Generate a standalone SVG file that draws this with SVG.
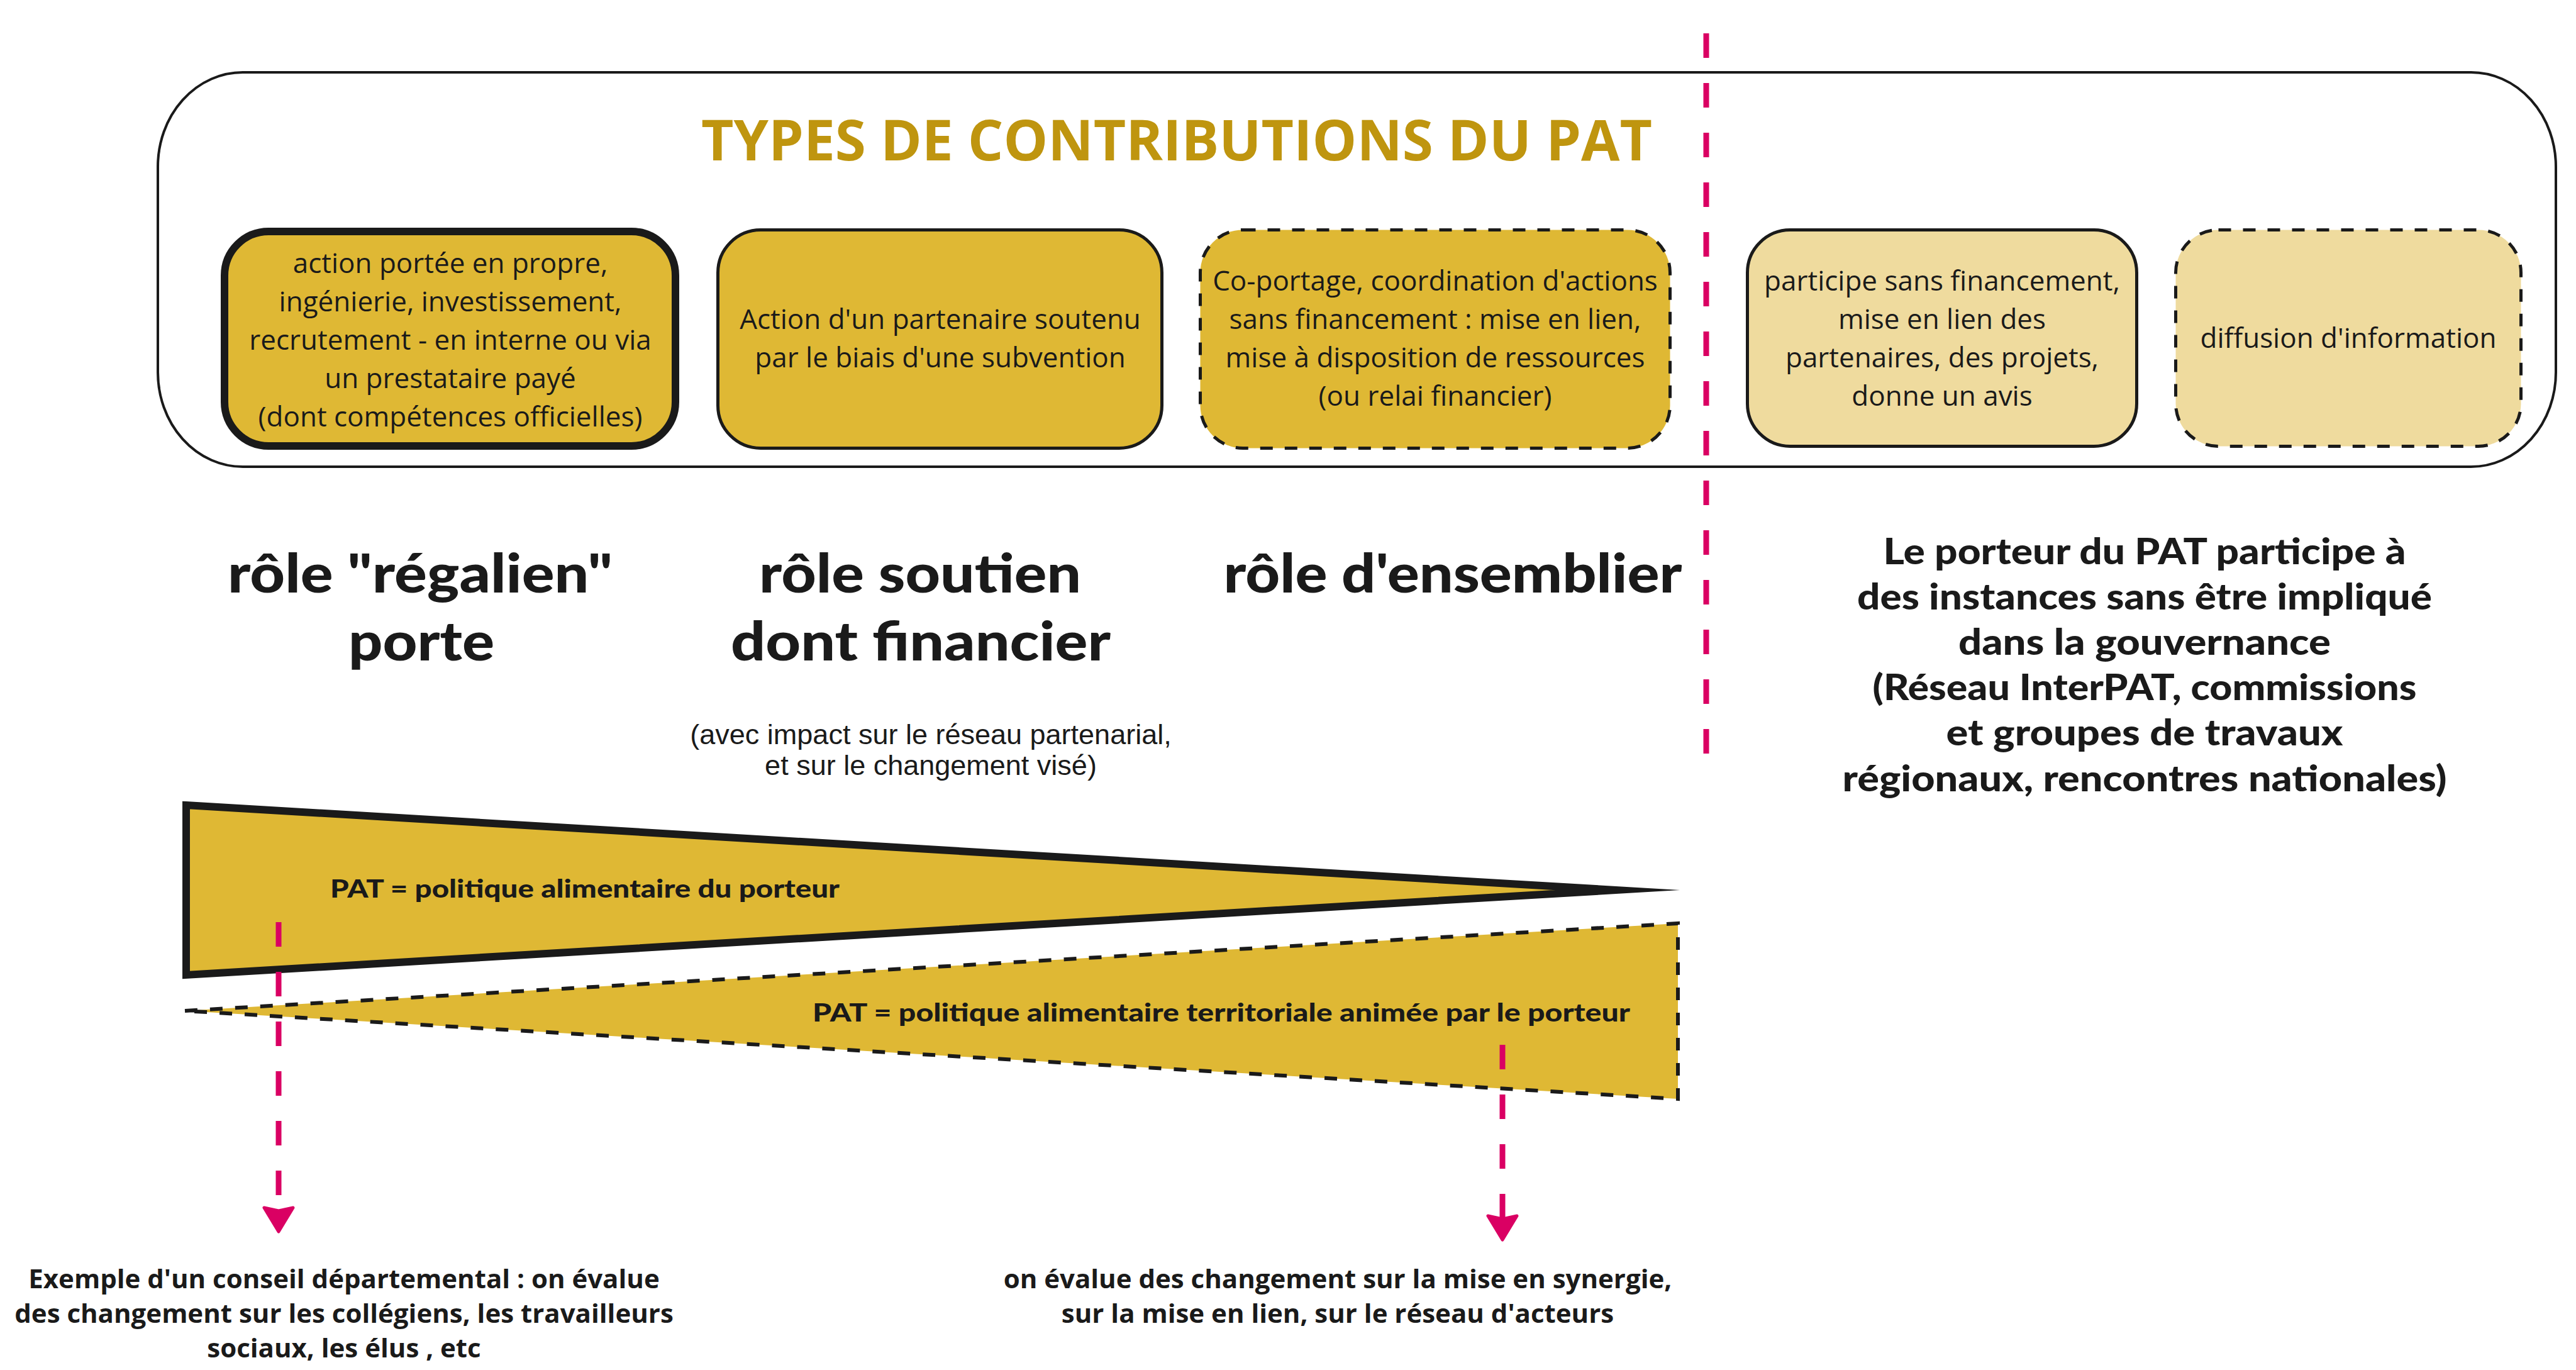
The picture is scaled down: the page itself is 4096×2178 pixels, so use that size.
<svg xmlns="http://www.w3.org/2000/svg" width="4096" height="2178" viewBox="0 0 4096 2178">
<style>
.box{fill:#DFB834;stroke:#1A1A1A;stroke-width:5}
.light{fill:#EFDB9E}
.dash{stroke-dasharray:20 19}
.thick{stroke-width:12}
.bt{font-family:"Open Sans","Noto Sans",sans-serif;font-size:44px;fill:#1A1A1A;text-anchor:middle}
.role{font-family:Lato,"Noto Sans",sans-serif;font-weight:900;font-size:86px;fill:#1A1A1A;text-anchor:middle}
.side{font-family:Lato,"Noto Sans",sans-serif;font-weight:900;font-size:58px;fill:#1A1A1A;text-anchor:middle}
.tri{font-family:Lato,"Noto Sans",sans-serif;font-weight:900;font-size:40px;fill:#1A1A1A}
.bot{font-family:"Open Sans","Noto Sans",sans-serif;font-weight:700;font-size:42px;fill:#1A1A1A;text-anchor:middle}
.sub{font-family:"Liberation Sans",Arial,sans-serif;font-size:45px;fill:#1A1A1A;text-anchor:middle}
.pink{fill:none;stroke:#DA0063;stroke-width:9;stroke-dasharray:39 40}
</style>
<defs>
<marker id="head" viewBox="0 0 44 52" refX="8" refY="26" markerWidth="44" markerHeight="52" markerUnits="userSpaceOnUse" orient="auto">
<path d="M3,3 L41,26 L3,49 L8,26 Z" fill="#DA0063" stroke="#DA0063" stroke-width="5" stroke-linejoin="round"/>
</marker>
</defs>
<rect width="4096" height="2178" fill="#FFFFFF"/>

<g id="frame">
<rect x="251" y="115" width="3813" height="627" rx="135" ry="150" fill="none" stroke="#1A1A1A" stroke-width="4"/>
<text x="1871" y="255" font-family="'Open Sans','Noto Sans',sans-serif" font-weight="700" font-size="89" fill="#BF950F" text-anchor="middle">TYPES DE CONTRIBUTIONS DU PAT</text>
</g>

<g id="box1">
<rect class="box thick" x="357" y="368" width="717" height="341" rx="70"/>
<text class="bt" x="716" y="434">action portée en propre,</text>
<text class="bt" x="716" y="495">ingénierie, investissement,</text>
<text class="bt" x="716" y="556">recrutement - en interne ou via</text>
<text class="bt" x="716" y="617">un prestataire payé</text>
<text class="bt" x="716" y="678">(dont compétences officielles)</text>
</g>

<g id="box2">
<rect class="box" x="1141.5" y="365.5" width="706" height="347" rx="68"/>
<text class="bt" x="1495" y="523">Action d'un partenaire soutenu</text>
<text class="bt" x="1495" y="584">par le biais d'une subvention</text>
</g>

<g id="box3">
<rect class="box dash" x="1908.5" y="365.5" width="747" height="347" rx="68"/>
<text class="bt" x="2282" y="462">Co-portage, coordination d'actions</text>
<text class="bt" x="2282" y="523">sans financement : mise en lien,</text>
<text class="bt" x="2282" y="584">mise à disposition de ressources</text>
<text class="bt" x="2282" y="645">(ou relai financier)</text>
</g>

<g id="box4">
<rect class="box light" x="2778.5" y="365.5" width="619" height="344" rx="68"/>
<text class="bt" x="3088" y="462">participe sans financement,</text>
<text class="bt" x="3088" y="523">mise en lien des</text>
<text class="bt" x="3088" y="584">partenaires, des projets,</text>
<text class="bt" x="3088" y="645">donne un avis</text>
</g>

<g id="box5">
<rect class="box light dash" x="3459.5" y="365.5" width="549" height="344" rx="68"/>
<text class="bt" x="3734" y="553">diffusion d'information</text>
</g>

<g id="role-regalien">
<text class="role" x="668" y="942" textLength="612" lengthAdjust="spacingAndGlyphs">rôle "régalien"</text>
<text class="role" x="670" y="1050" textLength="232" lengthAdjust="spacingAndGlyphs">porte</text>
</g>

<g id="role-soutien">
<text class="role" x="1463" y="942" textLength="512" lengthAdjust="spacingAndGlyphs">rôle soutien</text>
<text class="role" x="1464" y="1050" textLength="604" lengthAdjust="spacingAndGlyphs">dont financier</text>
<text class="sub" x="1480" y="1183">(avec impact sur le réseau partenarial,</text>
<text class="sub" x="1480" y="1232">et sur le changement visé)</text>
</g>

<g id="role-ensemblier">
<text class="role" x="2310" y="942" textLength="729" lengthAdjust="spacingAndGlyphs">rôle d'ensemblier</text>
</g>

<g id="instances">
<text class="side" x="3410" y="897" textLength="831" lengthAdjust="spacingAndGlyphs">Le porteur du PAT participe à</text>
<text class="side" x="3410" y="969" textLength="914" lengthAdjust="spacingAndGlyphs">des instances sans être impliqué</text>
<text class="side" x="3410" y="1041" textLength="592" lengthAdjust="spacingAndGlyphs">dans la gouvernance</text>
<text class="side" x="3410" y="1113" textLength="865" lengthAdjust="spacingAndGlyphs">(Réseau InterPAT, commissions</text>
<text class="side" x="3410" y="1185" textLength="631" lengthAdjust="spacingAndGlyphs">et groupes de travaux</text>
<text class="side" x="3410" y="1258" textLength="961" lengthAdjust="spacingAndGlyphs">régionaux, rencontres nationales)</text>
</g>

<g id="triangle-porteur">
<polygon points="296,1280 2570,1415 296,1550" fill="#DFB834" stroke="#1A1A1A" stroke-width="12" stroke-linejoin="miter" stroke-miterlimit="40"/>
<text class="tri" x="525" y="1427" textLength="810" lengthAdjust="spacingAndGlyphs">PAT = politique alimentaire du porteur</text>
</g>

<g id="triangle-territoriale">
<polygon points="294,1607 2668,1468 2668,1747" fill="#DFB834" stroke="#1A1A1A" stroke-width="6" stroke-dasharray="20 20"/>
<text class="tri" x="1292" y="1624" textLength="1300" lengthAdjust="spacingAndGlyphs">PAT = politique alimentaire territoriale animée par le porteur</text>
</g>

<g id="connectors">
<line class="pink" x1="2713" y1="53" x2="2713" y2="1199"/>
<path class="pink" d="M443,1466 L443,1925" marker-end="url(#head)"/>
<path class="pink" d="M2389,1661 L2389,1938" marker-end="url(#head)"/>
</g>

<g id="eval-departement">
<text class="bot" x="547" y="2048">Exemple d'un conseil départemental : on évalue</text>
<text class="bot" x="547" y="2103">des changement sur les collégiens, les travailleurs</text>
<text class="bot" x="547" y="2158">sociaux, les élus , etc</text>
</g>

<g id="eval-synergie">
<text class="bot" x="2127" y="2048">on évalue des changement sur la mise en synergie,</text>
<text class="bot" x="2127" y="2103">sur la mise en lien, sur le réseau d'acteurs</text>
</g>
</svg>
